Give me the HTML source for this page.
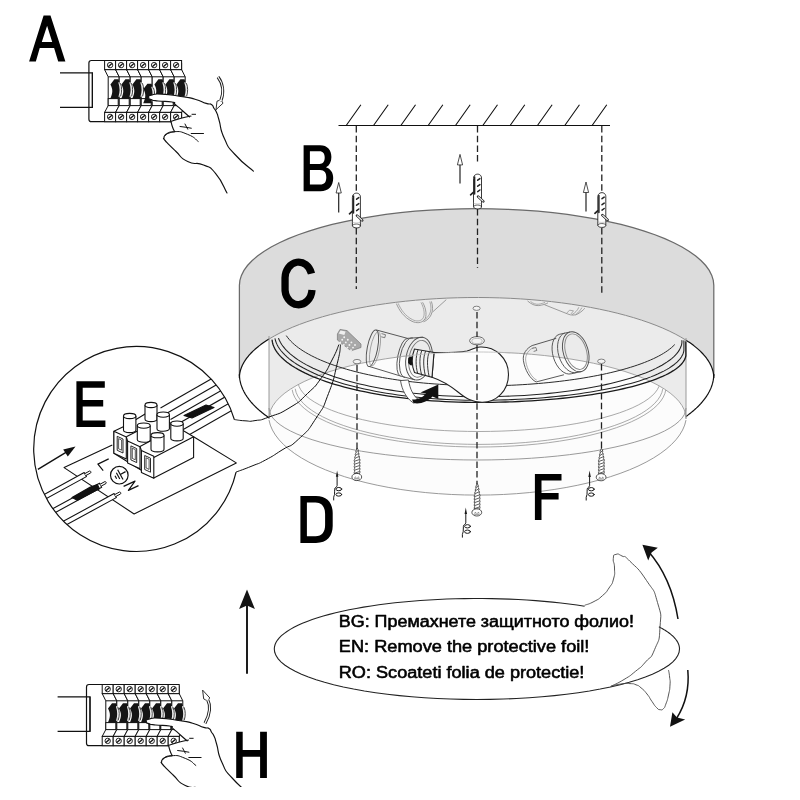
<!DOCTYPE html>
<html><head><meta charset="utf-8"><title>Assembly</title>
<style>html,body{margin:0;padding:0;background:#fff}svg{display:block}text{font-family:"Liberation Sans",sans-serif}</style>
</head><body>
<svg width="800" height="800" viewBox="0 0 800 800" style="will-change:transform">
<rect width="800" height="800" fill="#fff"/>
<g id="lamp">
<path d="M239.4 285.4 L239.91 280.38 L241.43 275.38 L243.96 270.42 L247.48 265.52 L251.99 260.71 L257.46 256.01 L263.86 251.43 L271.18 247 L279.38 242.73 L288.42 238.65 L298.26 234.76 L308.87 231.09 L320.2 227.66 L332.2 224.47 L344.82 221.54 L358 218.89 L371.69 216.52 L385.83 214.45 L400.35 212.68 L415.21 211.22 L430.32 210.08 L445.64 209.26 L461.09 208.76 L476.6 208.6 L492.11 208.76 L507.56 209.26 L522.88 210.08 L537.99 211.22 L552.85 212.68 L567.37 214.45 L581.51 216.52 L595.2 218.89 L608.38 221.54 L621 224.47 L633 227.66 L644.33 231.09 L654.94 234.76 L664.78 238.65 L673.82 242.73 L682.02 247 L689.34 251.43 L695.74 256.01 L701.21 260.71 L705.72 265.52 L709.24 270.42 L711.77 275.38 L713.29 280.38 L713.8 285.4 L713.8 378 L713.8 378 L713.29 372.74 L711.77 367.49 L709.24 362.3 L705.72 357.17 L701.21 352.12 L695.74 347.19 L689.34 342.4 L682.02 337.75 L673.82 333.28 L664.78 328.99 L654.94 324.92 L644.33 321.08 L633 317.48 L621 314.14 L608.38 311.07 L595.2 308.28 L581.51 305.8 L567.37 303.63 L552.85 301.77 L537.99 300.24 L522.88 299.05 L507.56 298.19 L492.11 297.67 L476.6 297.5 L461.09 297.67 L445.64 298.19 L430.32 299.05 L415.21 300.24 L400.35 301.77 L385.83 303.63 L371.69 305.8 L358 308.28 L344.82 311.07 L332.2 314.14 L320.2 317.48 L308.87 321.08 L298.26 324.92 L288.42 328.99 L279.38 333.28 L271.18 337.75 L263.86 342.4 L257.46 347.19 L251.99 352.12 L247.48 357.17 L243.96 362.3 L241.43 367.49 L239.91 372.74 L239.4 378 Z" fill="#dcdcdc" stroke="none"/>
<path d="M269 339.06 L274.34 335.95 L280.08 332.92 L286.22 329.98 L292.74 327.14 L299.63 324.4 L306.87 321.77 L314.45 319.25 L322.36 316.84 L330.57 314.56 L339.08 312.41 L347.86 310.39 L356.9 308.5 L366.18 306.75 L375.68 305.15 L385.38 303.69 L395.27 302.38 L405.32 301.22 L415.51 300.22 L425.82 299.37 L436.23 298.67 L446.73 298.14 L457.28 297.77 L467.88 297.55 L478.49 297.5 L489.09 297.61 L499.68 297.88 L510.21 298.31 L520.68 298.9 L531.06 299.65 L541.33 300.56 L551.48 301.62 L561.47 302.83 L571.29 304.19 L580.92 305.7 L590.35 307.36 L599.54 309.16 L608.49 311.09 L617.18 313.16 L625.58 315.36 L633.69 317.68 L641.48 320.13 L648.94 322.69 L656.06 325.36 L662.82 328.14 L669.2 331.01 L675.2 333.99 L680.81 337.04 L686 340.19 L686 418.5 L685.55 414.15 L684.22 409.82 L681.99 405.53 L678.9 401.29 L674.93 397.12 L670.13 393.05 L664.5 389.09 L658.07 385.25 L650.86 381.55 L642.91 378.02 L634.26 374.65 L624.93 371.48 L614.97 368.5 L604.43 365.74 L593.34 363.21 L581.75 360.91 L569.72 358.86 L557.29 357.06 L544.52 355.53 L531.46 354.27 L518.18 353.28 L504.71 352.57 L491.14 352.14 L477.5 352 L463.86 352.14 L450.29 352.57 L436.82 353.28 L423.54 354.27 L410.48 355.53 L397.71 357.06 L385.28 358.86 L373.25 360.91 L361.66 363.21 L350.57 365.74 L340.03 368.5 L330.07 371.48 L320.74 374.65 L312.09 378.02 L304.14 381.55 L296.93 385.25 L290.5 389.09 L284.87 393.05 L280.07 397.12 L276.1 401.29 L273.01 405.53 L270.78 409.82 L269.45 414.15 L269 418.5 Z" fill="#ebebeb"/>
<path d="M269 418.5 L269.45 414.15 L270.78 409.82 L273.01 405.53 L276.1 401.29 L280.07 397.12 L284.87 393.05 L290.5 389.09 L296.93 385.25 L304.14 381.55 L312.09 378.02 L320.74 374.65 L330.07 371.48 L340.03 368.5 L350.57 365.74 L361.66 363.21 L373.25 360.91 L385.28 358.86 L397.71 357.06 L410.48 355.53 L423.54 354.27 L436.82 353.28 L450.29 352.57 L463.86 352.14 L477.5 352 L491.14 352.14 L504.71 352.57 L518.18 353.28 L531.46 354.27 L544.52 355.53 L557.29 357.06 L569.72 358.86 L581.75 360.91 L593.34 363.21 L604.43 365.74 L614.97 368.5 L624.93 371.48 L634.26 374.65 L642.91 378.02 L650.86 381.55 L658.07 385.25 L664.5 389.09 L670.13 393.05 L674.93 397.12 L678.9 401.29 L681.99 405.53 L684.22 409.82 L685.55 414.15 L686 418.5 L686 420.07 L684.69 425.09 L682.57 430.06 L679.64 434.98 L675.93 439.81 L671.43 444.55 L666.18 449.16 L660.19 453.65 L653.49 457.98 L646.1 462.13 L638.04 466.11 L629.36 469.88 L620.09 473.43 L610.25 476.75 L599.9 479.83 L589.07 482.66 L577.8 485.21 L566.14 487.49 L554.13 489.49 L541.82 491.19 L529.26 492.59 L516.5 493.68 L503.58 494.47 L490.57 494.94 L477.5 495.1 L464.43 494.94 L451.42 494.47 L438.5 493.68 L425.74 492.59 L413.18 491.19 L400.87 489.49 L388.86 487.49 L377.2 485.21 L365.93 482.66 L355.1 479.83 L344.75 476.75 L334.91 473.43 L325.64 469.88 L316.96 466.11 L308.9 462.13 L301.51 457.98 L294.81 453.65 L288.82 449.16 L283.57 444.55 L279.07 439.81 L275.36 434.98 L272.43 430.06 L270.31 425.09 L269 420.07 Z" fill="#fcfcfc"/>
<path d="M239.4 376 L239.4 285.4 L239.4 285.4 L239.91 280.38 L241.43 275.38 L243.96 270.42 L247.48 265.52 L251.99 260.71 L257.46 256.01 L263.86 251.43 L271.18 247 L279.38 242.73 L288.42 238.65 L298.26 234.76 L308.87 231.09 L320.2 227.66 L332.2 224.47 L344.82 221.54 L358 218.89 L371.69 216.52 L385.83 214.45 L400.35 212.68 L415.21 211.22 L430.32 210.08 L445.64 209.26 L461.09 208.76 L476.6 208.6 L492.11 208.76 L507.56 209.26 L522.88 210.08 L537.99 211.22 L552.85 212.68 L567.37 214.45 L581.51 216.52 L595.2 218.89 L608.38 221.54 L621 224.47 L633 227.66 L644.33 231.09 L654.94 234.76 L664.78 238.65 L673.82 242.73 L682.02 247 L689.34 251.43 L695.74 256.01 L701.21 260.71 L705.72 265.52 L709.24 270.42 L711.77 275.38 L713.29 280.38 L713.8 285.4 L713.8 376" fill="none" stroke="#6a6a6a" stroke-width="1.25"/>
<path d="M239.4 378 L239.41 377.15 L239.45 376.31 L239.52 375.46 L239.61 374.61 L239.73 373.77 L239.87 372.92 L240.04 372.08 L240.24 371.23 L240.46 370.39 L240.71 369.55 L240.99 368.71 L241.29 367.87 L241.61 367.03 L241.97 366.19 L242.35 365.35 L242.75 364.52 L243.18 363.68 L243.64 362.85 L244.12 362.02 L244.63 361.19 L245.16 360.36 L245.72 359.54 L246.31 358.71 L246.92 357.89 L247.56 357.07 L248.22 356.26 L248.9 355.44 L249.61 354.63 L250.35 353.82 L251.11 353.02 L251.9 352.21 L252.71 351.41 L253.55 350.61 L254.41 349.82 L255.3 349.03 L256.21 348.24 L257.14 347.45 L258.1 346.67 L259.08 345.89 L260.09 345.12 L261.12 344.35 L262.18 343.58 L263.25 342.82 L264.36 342.06 L265.48 341.3 L266.63 340.55 L267.8 339.8 L269 339.06" fill="none" stroke="#111" stroke-width="1.2"/>
<path d="M239.4 374 L239.41 374.95 L239.45 375.9 L239.52 376.86 L239.61 377.81 L239.73 378.76 L239.87 379.71 L240.04 380.66 L240.24 381.61 L240.46 382.56 L240.71 383.5 L240.99 384.45 L241.29 385.39 L241.61 386.34 L241.97 387.28 L242.35 388.22 L242.75 389.16 L243.18 390.1 L243.64 391.03 L244.12 391.97 L244.63 392.9 L245.16 393.83 L245.72 394.76 L246.31 395.68 L246.92 396.61 L247.56 397.53 L248.22 398.44 L248.9 399.36 L249.61 400.27 L250.35 401.18 L251.11 402.09 L251.9 402.99 L252.71 403.89 L253.55 404.79 L254.41 405.68 L255.3 406.57 L256.21 407.46 L257.14 408.34 L258.1 409.22 L259.08 410.1 L260.09 410.97 L261.12 411.83 L262.18 412.7 L263.25 413.55 L264.36 414.41 L265.48 415.26 L266.63 416.1 L267.8 416.94 L269 417.78" fill="none" stroke="#111" stroke-width="1.2"/>
<path d="M686 340.19 L687.12 340.91 L688.23 341.64 L689.31 342.37 L690.37 343.11 L691.4 343.85 L692.42 344.6 L693.41 345.34 L694.38 346.1 L695.32 346.85 L696.25 347.61 L697.15 348.37 L698.03 349.13 L698.88 349.9 L699.71 350.67 L700.52 351.44 L701.31 352.22 L702.07 353 L702.81 353.78 L703.52 354.56 L704.21 355.35 L704.88 356.14 L705.53 356.93 L706.15 357.72 L706.75 358.51 L707.32 359.31 L707.87 360.11 L708.39 360.91 L708.89 361.71 L709.37 362.52 L709.82 363.32 L710.25 364.13 L710.66 364.94 L711.04 365.75 L711.39 366.56 L711.72 367.37 L712.03 368.18 L712.31 369 L712.57 369.81 L712.8 370.63 L713.01 371.45 L713.2 372.26 L713.36 373.08 L713.49 373.9 L713.6 374.72 L713.69 375.54 L713.75 376.36 L713.79 377.18 L713.8 378" fill="none" stroke="#111" stroke-width="1.2"/>
<path d="M686 416.51 L687.12 415.7 L688.23 414.88 L689.31 414.05 L690.37 413.22 L691.4 412.39 L692.42 411.55 L693.41 410.71 L694.38 409.87 L695.32 409.02 L696.25 408.17 L697.15 407.31 L698.03 406.45 L698.88 405.59 L699.71 404.72 L700.52 403.86 L701.31 402.98 L702.07 402.11 L702.81 401.23 L703.52 400.35 L704.21 399.47 L704.88 398.58 L705.53 397.69 L706.15 396.8 L706.75 395.91 L707.32 395.01 L707.87 394.11 L708.39 393.21 L708.89 392.31 L709.37 391.41 L709.82 390.5 L710.25 389.6 L710.66 388.69 L711.04 387.78 L711.39 386.86 L711.72 385.95 L712.03 385.04 L712.31 384.12 L712.57 383.2 L712.8 382.29 L713.01 381.37 L713.2 380.45 L713.36 379.53 L713.49 378.61 L713.6 377.69 L713.69 376.77 L713.75 375.84 L713.79 374.92 L713.8 374" fill="none" stroke="#111" stroke-width="1.2"/>
<path d="M269 339.06 L274.34 335.95 L280.08 332.92 L286.22 329.98 L292.74 327.14 L299.63 324.4 L306.87 321.77 L314.45 319.25 L322.36 316.84 L330.57 314.56 L339.08 312.41 L347.86 310.39 L356.9 308.5 L366.18 306.75 L375.68 305.15 L385.38 303.69 L395.27 302.38 L405.32 301.22 L415.51 300.22 L425.82 299.37 L436.23 298.67 L446.73 298.14 L457.28 297.77 L467.88 297.55 L478.49 297.5 L489.09 297.61 L499.68 297.88 L510.21 298.31 L520.68 298.9 L531.06 299.65 L541.33 300.56 L551.48 301.62 L561.47 302.83 L571.29 304.19 L580.92 305.7 L590.35 307.36 L599.54 309.16 L608.49 311.09 L617.18 313.16 L625.58 315.36 L633.69 317.68 L641.48 320.13 L648.94 322.69 L656.06 325.36 L662.82 328.14 L669.2 331.01 L675.2 333.99 L680.81 337.04 L686 340.19" fill="none" stroke="#8a8a8a" stroke-width="1"/>
<path d="M269 336 L269 419 M686 338 L686 419" fill="none" stroke="#8e8e8e" stroke-width="0.9"/>
<path d="M269 418.5 L269.45 414.15 L270.78 409.82 L273.01 405.53 L276.1 401.29 L280.07 397.12 L284.87 393.05 L290.5 389.09 L296.93 385.25 L304.14 381.55 L312.09 378.02 L320.74 374.65 L330.07 371.48 L340.03 368.5 L350.57 365.74 L361.66 363.21 L373.25 360.91 L385.28 358.86 L397.71 357.06 L410.48 355.53 L423.54 354.27 L436.82 353.28 L450.29 352.57 L463.86 352.14 L477.5 352 L491.14 352.14 L504.71 352.57 L518.18 353.28 L531.46 354.27 L544.52 355.53 L557.29 357.06 L569.72 358.86 L581.75 360.91 L593.34 363.21 L604.43 365.74 L614.97 368.5 L624.93 371.48 L634.26 374.65 L642.91 378.02 L650.86 381.55 L658.07 385.25 L664.5 389.09 L670.13 393.05 L674.93 397.12 L678.9 401.29 L681.99 405.53 L684.22 409.82 L685.55 414.15 L686 418.5" fill="none" stroke="#8e8e8e" stroke-width="0.8"/>
<path d="M269 408 L269.45 411.4 L270.78 414.79 L273.01 418.14 L276.1 421.46 L280.07 424.71 L284.87 427.9 L290.5 431 L296.93 434 L304.14 436.89 L312.09 439.66 L320.74 442.29 L330.07 444.77 L340.03 447.1 L350.57 449.25 L361.66 451.24 L373.25 453.03 L385.28 454.64 L397.71 456.04 L410.48 457.24 L423.54 458.23 L436.82 459 L450.29 459.56 L463.86 459.89 L477.5 460 L491.14 459.89 L504.71 459.56 L518.18 459 L531.46 458.23 L544.52 457.24 L557.29 456.04 L569.72 454.64 L581.75 453.03 L593.34 451.24 L604.43 449.25 L614.97 447.1 L624.93 444.77 L634.26 442.29 L642.91 439.66 L650.86 436.89 L658.07 434 L664.5 431 L670.13 427.9 L674.93 424.71 L678.9 421.46 L681.99 418.14 L684.22 414.79 L685.55 411.4 L686 408" fill="none" stroke="#8e8e8e" stroke-width="0.9"/>
<path d="M269 420.07 L270.31 425.09 L272.43 430.06 L275.36 434.98 L279.07 439.81 L283.57 444.55 L288.82 449.16 L294.81 453.65 L301.51 457.98 L308.9 462.13 L316.96 466.11 L325.64 469.88 L334.91 473.43 L344.75 476.75 L355.1 479.83 L365.93 482.66 L377.2 485.21 L388.86 487.49 L400.87 489.49 L413.18 491.19 L425.74 492.59 L438.5 493.68 L451.42 494.47 L464.43 494.94 L477.5 495.1 L490.57 494.94 L503.58 494.47 L516.5 493.68 L529.26 492.59 L541.82 491.19 L554.13 489.49 L566.14 487.49 L577.8 485.21 L589.07 482.66 L599.9 479.83 L610.25 476.75 L620.09 473.43 L629.36 469.88 L638.04 466.11 L646.1 462.13 L653.49 457.98 L660.19 453.65 L666.18 449.16 L671.43 444.55 L675.93 439.81 L679.64 434.98 L682.57 430.06 L684.69 425.09 L686 420.07" fill="none" stroke="#8e8e8e" stroke-width="0.9"/>
<clipPath id="wo"><path d="M269 418.5 L269.45 414.15 L270.78 409.82 L273.01 405.53 L276.1 401.29 L280.07 397.12 L284.87 393.05 L290.5 389.09 L296.93 385.25 L304.14 381.55 L312.09 378.02 L320.74 374.65 L330.07 371.48 L340.03 368.5 L350.57 365.74 L361.66 363.21 L373.25 360.91 L385.28 358.86 L397.71 357.06 L410.48 355.53 L423.54 354.27 L436.82 353.28 L450.29 352.57 L463.86 352.14 L477.5 352 L491.14 352.14 L504.71 352.57 L518.18 353.28 L531.46 354.27 L544.52 355.53 L557.29 357.06 L569.72 358.86 L581.75 360.91 L593.34 363.21 L604.43 365.74 L614.97 368.5 L624.93 371.48 L634.26 374.65 L642.91 378.02 L650.86 381.55 L658.07 385.25 L664.5 389.09 L670.13 393.05 L674.93 397.12 L678.9 401.29 L681.99 405.53 L684.22 409.82 L685.55 414.15 L686 418.5 L686 420.07 L684.69 425.09 L682.57 430.06 L679.64 434.98 L675.93 439.81 L671.43 444.55 L666.18 449.16 L660.19 453.65 L653.49 457.98 L646.1 462.13 L638.04 466.11 L629.36 469.88 L620.09 473.43 L610.25 476.75 L599.9 479.83 L589.07 482.66 L577.8 485.21 L566.14 487.49 L554.13 489.49 L541.82 491.19 L529.26 492.59 L516.5 493.68 L503.58 494.47 L490.57 494.94 L477.5 495.1 L464.43 494.94 L451.42 494.47 L438.5 493.68 L425.74 492.59 L413.18 491.19 L400.87 489.49 L388.86 487.49 L377.2 485.21 L365.93 482.66 L355.1 479.83 L344.75 476.75 L334.91 473.43 L325.64 469.88 L316.96 466.11 L308.9 462.13 L301.51 457.98 L294.81 453.65 L288.82 449.16 L283.57 444.55 L279.07 439.81 L275.36 434.98 L272.43 430.06 L270.31 425.09 L269 420.07 Z"/></clipPath>
<g clip-path="url(#wo)">
<path d="M298.2 383.37 L299.1 386.57 L300.73 389.74 L303.08 392.88 L306.14 395.97 L309.89 399 L314.32 401.96 L319.42 404.83 L325.16 407.61 L331.52 410.28 L338.48 412.83 L346 415.25 L354.06 417.54 L362.62 419.68 L371.65 421.66 L381.11 423.48 L390.97 425.12 L401.18 426.59 L411.7 427.88 L422.5 428.98 L433.53 429.88 L444.73 430.59 L456.08 431.09 L467.52 431.4 L479 431.5 L490.48 431.4 L501.92 431.09 L513.27 430.59 L524.47 429.88 L535.5 428.98 L546.3 427.88 L556.82 426.59 L567.03 425.12 L576.89 423.48 L586.35 421.66 L595.38 419.68 L603.94 417.54 L612 415.25 L619.52 412.83 L626.48 410.28 L632.84 407.61 L638.58 404.83 L643.68 401.96 L648.11 399 L651.86 395.97 L654.92 392.88 L657.27 389.74 L658.9 386.57 L659.8 383.37" fill="none" stroke="#9a9a9a" stroke-width="0.85"/>
<path d="M295.2 388.72 L296.11 392.42 L297.77 396.09 L300.15 399.72 L303.25 403.3 L307.07 406.8 L311.57 410.22 L316.75 413.55 L322.59 416.76 L329.05 419.85 L336.12 422.8 L343.77 425.6 L351.96 428.25 L360.66 430.72 L369.85 433.01 L379.47 435.12 L389.49 437.02 L399.87 438.72 L410.57 440.21 L421.55 441.48 L432.76 442.53 L444.16 443.34 L455.69 443.93 L467.32 444.28 L479 444.4 L490.68 444.28 L502.31 443.93 L513.84 443.34 L525.24 442.53 L536.45 441.48 L547.43 440.21 L558.13 438.72 L568.51 437.02 L578.53 435.12 L588.15 433.01 L597.34 430.72 L606.04 428.25 L614.23 425.6 L621.88 422.8 L628.95 419.85 L635.41 416.76 L641.25 413.55 L646.43 410.22 L650.93 406.8 L654.75 403.3 L657.85 399.72 L660.23 396.09 L661.89 392.42 L662.8 388.72" fill="none" stroke="#9a9a9a" stroke-width="0.85"/>
<path d="M292.2 389.77 L293.13 393.57 L294.8 397.35 L297.22 401.08 L300.37 404.75 L304.24 408.35 L308.82 411.87 L314.08 415.29 L320.01 418.59 L326.58 421.76 L333.77 424.8 L341.54 427.68 L349.86 430.4 L358.71 432.94 L368.04 435.3 L377.82 437.46 L388.01 439.42 L398.56 441.17 L409.44 442.69 L420.6 444 L431.99 445.07 L443.58 445.91 L455.31 446.52 L467.13 446.88 L479 447 L490.87 446.88 L502.69 446.52 L514.42 445.91 L526.01 445.07 L537.4 444 L548.56 442.69 L559.44 441.17 L569.99 439.42 L580.18 437.46 L589.96 435.3 L599.29 432.94 L608.14 430.4 L616.46 427.68 L624.23 424.8 L631.42 421.76 L637.99 418.59 L643.92 415.29 L649.18 411.87 L653.76 408.35 L657.63 404.75 L660.78 401.08 L663.2 397.35 L664.87 393.57 L665.8 389.77" fill="none" stroke="#9a9a9a" stroke-width="0.85"/>
</g>
<path d="M286.5 335.92 L287.76 337.66 L289.16 339.38 L290.72 341.08 L292.43 342.78 L294.29 344.45 L296.29 346.11 L298.44 347.75 L300.73 349.37 L303.16 350.97 L305.73 352.55 L308.44 354.1 L311.29 355.63 L314.27 357.13 L317.37 358.6 L320.61 360.05 L323.97 361.46 L327.46 362.84 L331.06 364.19 L334.79 365.51 L338.62 366.79 L342.57 368.04 L346.63 369.25 L350.79 370.43 L355.05 371.56 L359.42 372.66 L363.87 373.72 L368.42 374.73 L373.05 375.71 L377.77 376.64 L382.57 377.53 L387.44 378.37 L392.39 379.17 L397.4 379.93 L402.48 380.64 L407.62 381.3 L412.82 381.91 L418.06 382.48 L423.36 383 L428.7 383.47 L434.08 383.9 L439.49 384.27 L444.93 384.6 L450.4 384.87 L455.9 385.1 L461.41 385.27 L466.93 385.4 L472.46 385.47 L478 385.5 L478 386 L483.57 385.98 L489.13 385.92 L494.69 385.81 L500.24 385.67 L505.76 385.48 L511.27 385.26 L516.75 384.99 L522.2 384.68 L527.62 384.33 L533 383.94 L538.34 383.51 L543.64 383.05 L548.88 382.54 L554.08 381.99 L559.21 381.41 L564.29 380.78 L569.29 380.12 L574.23 379.43 L579.1 378.69 L583.89 377.92 L588.6 377.12 L593.23 376.28 L597.78 375.41 L602.23 374.5 L606.58 373.56 L610.85 372.59 L615.01 371.58 L619.06 370.55 L623.02 369.49 L626.86 368.39 L630.59 367.27 L634.21 366.13 L637.7 364.95 L641.08 363.75 L644.34 362.53 L647.47 361.28 L650.47 360.01 L653.34 358.72 L656.08 357.4 L658.69 356.07 L661.16 354.72 L663.49 353.35 L665.68 351.96 L667.74 350.55 L669.64 349.14 L671.41 347.71 L673.03 346.26 L674.5 344.81" fill="none" stroke="#2a2a2a" stroke-width="1.0" stroke-linecap="round"/>
<path d="M278.6 338.57 L279.45 340.55 L280.49 342.53 L281.7 344.49 L283.1 346.44 L284.67 348.38 L286.42 350.3 L288.34 352.2 L290.43 354.08 L292.7 355.94 L295.13 357.78 L297.73 359.59 L300.5 361.38 L303.43 363.13 L306.51 364.86 L309.75 366.56 L313.15 368.22 L316.7 369.85 L320.39 371.44 L324.22 373 L328.2 374.51 L332.31 375.99 L336.56 377.42 L340.94 378.82 L345.44 380.16 L350.06 381.47 L354.8 382.72 L359.65 383.93 L364.61 385.09 L369.67 386.2 L374.83 387.26 L380.09 388.27 L385.43 389.22 L390.86 390.13 L396.37 390.97 L401.96 391.77 L407.61 392.5 L413.33 393.18 L419.11 393.81 L424.94 394.37 L430.83 394.88 L436.75 395.33 L442.72 395.72 L448.71 396.05 L454.74 396.32 L460.78 396.53 L466.85 396.68 L472.92 396.77 L479 396.8 L479 396.8 L485.51 396.77 L492.01 396.69 L498.5 396.54 L504.97 396.34 L511.41 396.08 L517.82 395.77 L524.19 395.4 L530.51 394.97 L536.78 394.49 L542.99 393.95 L549.14 393.36 L555.21 392.72 L561.2 392.02 L567.11 391.27 L572.93 390.47 L578.66 389.61 L584.27 388.71 L589.79 387.76 L595.18 386.76 L600.46 385.71 L605.61 384.62 L610.64 383.48 L615.53 382.3 L620.27 381.07 L624.87 379.81 L629.33 378.5 L633.62 377.16 L637.76 375.77 L641.74 374.36 L645.54 372.91 L649.18 371.42 L652.64 369.91 L655.92 368.36 L659.02 366.79 L661.94 365.19 L664.67 363.56 L667.2 361.91 L669.55 360.24 L671.69 358.55 L673.64 356.85 L675.39 355.12 L676.94 353.38 L678.28 351.63 L679.42 349.87 L680.35 348.1 L681.07 346.32 L681.59 344.54 L681.9 342.75 L681.9 340.5" fill="none" stroke="#222" stroke-width="1.05" stroke-linecap="round" stroke-linejoin="round"/>
<path d="M275 338.73 L275.55 340.79 L276.29 342.85 L277.23 344.9 L278.37 346.93 L279.7 348.96 L281.23 350.97 L282.95 352.96 L284.87 354.93 L286.97 356.89 L289.26 358.82 L291.73 360.73 L294.39 362.61 L297.22 364.46 L300.24 366.29 L303.42 368.08 L306.78 369.84 L310.31 371.56 L314 373.25 L317.85 374.9 L321.86 376.51 L326.02 378.08 L330.34 379.6 L334.79 381.09 L339.39 382.52 L344.12 383.91 L348.98 385.25 L353.98 386.54 L359.09 387.77 L364.32 388.96 L369.66 390.09 L375.1 391.17 L380.65 392.19 L386.29 393.15 L392.03 394.06 L397.85 394.91 L403.74 395.69 L409.71 396.42 L415.75 397.09 L421.85 397.7 L428 398.24 L434.21 398.72 L440.45 399.14 L446.74 399.49 L453.05 399.78 L459.39 400.01 L465.75 400.17 L472.12 400.27 L478.5 400.3 L479 400.3 L485.57 400.27 L492.14 400.19 L498.7 400.06 L505.23 399.88 L511.74 399.64 L518.21 399.35 L524.64 399.01 L531.03 398.61 L537.36 398.17 L543.63 397.67 L549.84 397.13 L555.97 396.53 L562.02 395.89 L567.99 395.19 L573.87 394.45 L579.65 393.67 L585.32 392.83 L590.89 391.95 L596.34 391.03 L601.67 390.06 L606.87 389.05 L611.95 388 L616.88 386.91 L621.68 385.78 L626.32 384.61 L630.82 383.41 L635.16 382.17 L639.34 380.89 L643.35 379.58 L647.2 378.24 L650.87 376.87 L654.36 375.47 L657.68 374.05 L660.81 372.59 L663.75 371.12 L666.51 369.62 L669.07 368.1 L671.43 366.55 L673.6 365 L675.57 363.42 L677.33 361.83 L678.89 360.22 L680.25 358.61 L681.4 356.98 L682.34 355.35 L683.07 353.7 L683.59 352.06 L683.9 350.41 L683.9 340.8" fill="none" stroke="#222" stroke-width="1.05" stroke-linecap="round" stroke-linejoin="round"/>
<path d="M272.1 340.1 L272.41 342.16 L272.93 344.22 L273.67 346.27 L274.61 348.31 L275.77 350.34 L277.13 352.36 L278.7 354.36 L280.47 356.35 L282.45 358.32 L284.63 360.26 L287 362.19 L289.57 364.09 L292.34 365.96 L295.3 367.8 L298.45 369.62 L301.78 371.4 L305.29 373.15 L308.98 374.86 L312.84 376.53 L316.88 378.16 L321.07 379.76 L325.44 381.31 L329.95 382.81 L334.62 384.27 L339.44 385.68 L344.4 387.04 L349.5 388.36 L354.73 389.62 L360.08 390.82 L365.56 391.98 L371.16 393.08 L376.86 394.12 L382.67 395.1 L388.57 396.02 L394.57 396.89 L400.65 397.7 L406.82 398.44 L413.05 399.12 L419.35 399.74 L425.72 400.29 L432.13 400.79 L438.6 401.21 L445.1 401.57 L451.64 401.87 L458.21 402.1 L464.79 402.27 L471.39 402.37 L478 402.4 L479 402.4 L485.64 402.38 L492.27 402.3 L498.89 402.18 L505.49 402 L512.06 401.78 L518.59 401.51 L525.09 401.18 L531.54 400.82 L537.93 400.4 L544.27 399.93 L550.53 399.42 L556.73 398.86 L562.84 398.25 L568.87 397.6 L574.8 396.9 L580.64 396.16 L586.37 395.38 L591.99 394.55 L597.49 393.69 L602.88 392.78 L608.13 391.83 L613.25 390.84 L618.24 389.81 L623.08 388.75 L627.77 387.65 L632.31 386.52 L636.69 385.35 L640.91 384.16 L644.97 382.93 L648.85 381.67 L652.56 380.38 L656.08 379.06 L659.43 377.72 L662.59 376.36 L665.56 374.97 L668.34 373.56 L670.93 372.13 L673.32 370.68 L675.51 369.21 L677.49 367.73 L679.27 366.24 L680.85 364.73 L682.22 363.21 L683.38 361.68 L684.32 360.15 L685.06 358.6 L685.59 357.06 L685.9 355.5 L685.8 342" fill="none" stroke="#1a1a1a" stroke-width="1.3" stroke-linecap="round" stroke-linejoin="round"/>
<ellipse cx="476.6" cy="308.3" rx="3.6" ry="2.1" fill="#f4f4f4" stroke="#666" stroke-width="0.8"/>
<ellipse cx="477" cy="340.7" rx="7.4" ry="4.1" fill="#f4f4f4" stroke="#5a5a5a" stroke-width="0.9"/>
<ellipse cx="477" cy="341" rx="5.2" ry="2.6" fill="none" stroke="#999" stroke-width="0.6"/>
<ellipse cx="357" cy="361.6" rx="3.8" ry="2.2" fill="#f4f4f4" stroke="#666" stroke-width="0.8"/>
<ellipse cx="601.4" cy="361.3" rx="3.8" ry="2.2" fill="#f4f4f4" stroke="#666" stroke-width="0.8"/>
<g fill="none" stroke="#8c8c8c" stroke-width="0.85">
<path d="M396.4 303.6 C399 310 404 317.5 412 321.3 C416.5 323.4 421.5 323.2 424.4 319.8 C427 316.5 426.5 309 422.6 302.3"/>
<path d="M398.2 303.4 C400.8 309.5 405.2 316 412.6 319.7 C416.4 321.6 420.4 321.4 422.8 318.6 C425 315.6 424.6 309 421 302.4" stroke-width="0.7"/>
<path d="M431.4 301.4 C433 306 433 311 431 315 C429.5 318 427 320.5 423.5 321.8"/>
<path d="M429.8 301.5 C431.4 306 431.4 310.4 429.6 314 C428.3 316.6 426.2 319 423.4 320.4" stroke-width="0.7"/>
<path d="M432.6 312 L446.3 299.6"/>
<path d="M527.5 300.9 C531 304 535 306 538.8 305.6 C543 305 546 304 548 302.8"/>
<path d="M530.5 301.4 C533 303.6 536 304.6 538.8 304.2 C541.5 303.8 543.5 303 545 302.4" stroke-width="0.7"/>
<path d="M544.4 304.7 L567.8 314 C571 315.4 575 315.6 578 313.8 C581 312 583.5 310 584.7 308.2"/>
<path d="M575.5 314.8 C578.5 312.5 580.5 310 581.9 307.6 M572 314.6 C575 313 577.5 310.5 578.8 307.3" stroke-width="0.75"/>
<path d="M566.5 313.4 L569.5 310.2 L573.5 310.8 L571 313.9" stroke-width="0.7"/>
</g>
<g transform="translate(575.75 351.75)" fill="none" stroke="#505050" stroke-width="0.95">
<path d="M-43.6 -6.2 L-19.5 -13.4 M-11.8 23 L-39.6 30.2"/>
<path d="M-43.6 -6.2 C-49 -3.5 -53.5 2 -52.3 9 C-51 18 -45.5 27.5 -39.6 30.2"/>
<path d="M-42.2 -4.2 C-47 -2 -51 3 -50 9.5 C-48.8 17.5 -44 26 -39 28.4" stroke="#8a8a8a" stroke-width="0.7"/>
<path d="M-43.5 -3.3 l3.6 -1 l1 3 l-3.2 1" stroke-width="0.7"/>
<path d="M-16.52 -17.4 A12.4 20.6 -17 0 0 -4.48 22"/>
<path d="M-11.02 -18.7 A12.4 20.6 -17 0 0 1.02 20.7"/>
<path d="M-16.5 -17.4 L-6 -19.7 M-4.5 22 L6 19.7" />
<ellipse cx="0" cy="0" rx="12.4" ry="20.6" transform="rotate(-17)"/>
<ellipse cx="0.3" cy="0" rx="10.4" ry="18.3" transform="rotate(-17)" stroke="#888"/>
</g>
<g fill="none" stroke="#505050" stroke-width="0.95">
<path d="M376.5 330 L408 338.5 M369 366.4 L400.5 376"/>
<ellipse cx="372.4" cy="348.3" rx="5.2" ry="18.6" transform="rotate(11 372.4 348.3)"/>
<ellipse cx="375" cy="348.9" rx="4.6" ry="17.5" transform="rotate(11 375 348.9)" stroke="#8a8a8a" stroke-width="0.7"/>
<path d="M381.5 333.6 l4 1.1 l-0.7 3 l-3.6 -0.9" stroke-width="0.7"/>
<path d="M407.86 338.35 A6.5 19.2 11 0 0 400.54 376.05"/>
<path d="M412.85 337.97 A9 20.2 11 0 0 405.15 377.63"/>
<path d="M407.9 338.3 L423 337.3 M400.5 376 L415 379.9"/>
<ellipse cx="419" cy="358.6" rx="13" ry="21.6" transform="rotate(10 419 358.6)"/>
<ellipse cx="419.6" cy="358.8" rx="10.6" ry="18.6" transform="rotate(10 419.6 358.8)" stroke="#777"/>
</g>
<path d="M408.2 358.2 C409.6 356.6 411.4 356.2 413.2 357 L411.8 365.6 C410 365.4 408.8 364.4 408.1 362.6 Z" fill="#111"/>
<g stroke="#222" stroke-width="1.1" fill="#fdfdfd">
<path d="M434 352.5 C446 352.6 458 352.6 467 351 C472 349.8 475 347.3 480 347 C495 346.2 508.5 358 508.5 374.5 C508.5 391 496 402.5 482 402.3 C472 402.2 466 398.5 458 392 C450 385.5 442 380.5 432 377.2 Z"/>
<path d="M434 352.5 L432 377.2 L414.5 372.5 C411.5 366 411.5 356 414.5 349 Z" fill="#f3f3f3"/>
<path d="M418 349.8 C415.5 357 415.5 366 417.7 373.4" fill="none" stroke-width="0.9"/>
<path d="M421.8 350.5 C419.3 357 419.3 366 421.5 374.4" fill="none" stroke-width="0.9"/>
<path d="M425.6 351.2 C423.1 357 423.1 366 425.3 375.4" fill="none" stroke-width="0.9"/>
<path d="M429.4 351.90000000000003 C426.9 357 426.9 366 429.09999999999997 376.4" fill="none" stroke-width="0.9"/>
</g>
<path d="M396.03 357.29 L398.27 356.99 L400.52 356.7 L402.78 356.42 L405.05 356.14 L407.33 355.88 L409.62 355.62 L411.92 355.38 L414.22 355.14 L416.54 354.91 L418.86 354.68 L421.2 354.47 L423.54 354.27 L425.88 354.07 L428.24 353.88 L430.6 353.7 L432.96 353.53 L435.34 353.37 L437.72 353.22 L440.1 353.08 L442.49 352.94 L444.88 352.82 L447.28 352.7 L449.68 352.59 L452.09 352.5 L454.5 352.41 L456.91 352.32 L459.33 352.25 L461.75 352.19 L464.17 352.14 L466.59 352.09 L469.01 352.06 L471.44 352.03 L473.86 352.01 L476.29 352 L478.71 352 L481.14 352.01 L483.56 352.03 L485.99 352.06 L488.41 352.09 L490.83 352.14 L493.25 352.19 L495.67 352.25 L498.09 352.32 L500.5 352.41 L502.91 352.5 L505.32 352.59 L507.72 352.7 L510.12 352.82" fill="none" stroke="#b9b9b9" stroke-width="0.8"/>
<path d="M400.5 380.5 C402 390 406 398 413.5 403 L420 401 C413 396 410 389 408.5 380 Z" fill="#fff" stroke="#333" stroke-width="0.8"/>
<path d="M412 399.5 C418 399.8 423 397.5 426 393.5 L420.5 392.5 L438.3 384.5 L438.3 399 L432.5 396.5 C428 401.5 420 404.5 413.5 403 Z" fill="#111"/>
<path d="M337.4 334 L340 329.4 L347 330.6 L361 344 L361 347.5 L351 350.8 L337.4 340 Z" fill="#a9a9a9" stroke="#777" stroke-width="0.7"/>
<path d="M338.6 333.6 L340.6 330.6 L345.6 331.5 L344.3 335 Z" fill="#efefef" stroke="none"/>
<circle cx="344.2" cy="337.2" r="0.95" fill="#f2f2f2"/>
<circle cx="342.2" cy="339.8" r="0.95" fill="#f2f2f2"/>
<circle cx="340.2" cy="342.4" r="0.95" fill="#f2f2f2"/>
<circle cx="347.8" cy="339.8" r="0.95" fill="#f2f2f2"/>
<circle cx="345.8" cy="342.4" r="0.95" fill="#f2f2f2"/>
<circle cx="343.8" cy="345" r="0.95" fill="#f2f2f2"/>
<circle cx="351.4" cy="342.4" r="0.95" fill="#f2f2f2"/>
<circle cx="349.4" cy="345" r="0.95" fill="#f2f2f2"/>
<circle cx="347.4" cy="347.6" r="0.95" fill="#f2f2f2"/>
<circle cx="355" cy="345" r="0.95" fill="#f2f2f2"/>
<circle cx="353" cy="347.6" r="0.95" fill="#f2f2f2"/>
<circle cx="351" cy="350.2" r="0.95" fill="#f2f2f2"/>
</g>
<path d="M356.3 126 V193 M356.3 228 V289 M477.5 126 V163 M477.5 209 V268 M601.8 126 V191 M601.8 228 V293" stroke="#222" stroke-width="1.3" stroke-dasharray="6.5 3.2" fill="none"/>
<path d="M357 365 V449 M477 312 V337 M477 345 V484 M601.5 364 V449" stroke="#222" stroke-width="1.3" stroke-dasharray="6.5 3.2" fill="none"/>
<g stroke="#111" stroke-width="1.2" fill="none">
<path d="M338.5 125.5 H610"/>
<path d="M346.2 125.5 L360.9 104.8 M373.52 125.5 L388.22 104.8 M400.84 125.5 L415.54 104.8 M428.16 125.5 L442.86 104.8 M455.48 125.5 L470.18 104.8 M482.8 125.5 L497.5 104.8 M510.12 125.5 L524.82 104.8 M537.44 125.5 L552.14 104.8 M564.76 125.5 L579.46 104.8 M592.08 125.5 L606.78 104.8 " stroke-width="1.1"/>
</g>
<g transform="translate(356.4 193)" stroke="#222" stroke-width="0.9" fill="#fff" stroke-linecap="round">
<path d="M-4 4 C-4 -1.2 4 -1.2 4 4 L4 33 C4 35.6 -4 35.6 -4 33 Z"/>
<path d="M-4 32.6 C-4 30.4 4 30.4 4 32.6" fill="none" stroke-width="0.7"/>
<path d="M-4 29.3 C-3 30.2 3 30.2 4 29.3" fill="none" stroke="#999" stroke-width="0.5"/>
<path d="M-2.9 3 V20" fill="none" stroke-width="1.5"/>
<path d="M0.2 6.2 L2.4 4.6" fill="none" stroke-width="1.5"/>
<path d="M0.2 12.2 L2.4 10.6" fill="none" stroke-width="1.5"/>
<path d="M0.2 17.6 L2.4 16.0" fill="none" stroke-width="1.5"/>
<path d="M-4.2 18.4 L-6.9 20.8" stroke-width="1.7" fill="none"/>
<path d="M0.6 22.6 L5.8 27.4" stroke="#222" stroke-width="2.6" fill="none"/>
<path d="M0.9 22.9 L5.5 27.1" stroke="#fff" stroke-width="1.1" fill="none"/>
</g>
<g transform="translate(477.5 174)" stroke="#222" stroke-width="0.9" fill="#fff" stroke-linecap="round">
<path d="M-4 4 C-4 -1.2 4 -1.2 4 4 L4 33 C4 35.6 -4 35.6 -4 33 Z"/>
<path d="M-4 32.6 C-4 30.4 4 30.4 4 32.6" fill="none" stroke-width="0.7"/>
<path d="M-4 29.3 C-3 30.2 3 30.2 4 29.3" fill="none" stroke="#999" stroke-width="0.5"/>
<path d="M-2.9 3 V20" fill="none" stroke-width="1.5"/>
<path d="M0.2 6.2 L2.4 4.6" fill="none" stroke-width="1.5"/>
<path d="M0.2 12.2 L2.4 10.6" fill="none" stroke-width="1.5"/>
<path d="M0.2 17.6 L2.4 16.0" fill="none" stroke-width="1.5"/>
<path d="M-4.2 18.4 L-6.9 20.8" stroke-width="1.7" fill="none"/>
<path d="M0.6 22.6 L5.8 27.4" stroke="#222" stroke-width="2.6" fill="none"/>
<path d="M0.9 22.9 L5.5 27.1" stroke="#fff" stroke-width="1.1" fill="none"/>
</g>
<g transform="translate(601.8 192.5)" stroke="#222" stroke-width="0.9" fill="#fff" stroke-linecap="round">
<path d="M-4 4 C-4 -1.2 4 -1.2 4 4 L4 33 C4 35.6 -4 35.6 -4 33 Z"/>
<path d="M-4 32.6 C-4 30.4 4 30.4 4 32.6" fill="none" stroke-width="0.7"/>
<path d="M-4 29.3 C-3 30.2 3 30.2 4 29.3" fill="none" stroke="#999" stroke-width="0.5"/>
<path d="M-2.9 3 V20" fill="none" stroke-width="1.5"/>
<path d="M0.2 6.2 L2.4 4.6" fill="none" stroke-width="1.5"/>
<path d="M0.2 12.2 L2.4 10.6" fill="none" stroke-width="1.5"/>
<path d="M0.2 17.6 L2.4 16.0" fill="none" stroke-width="1.5"/>
<path d="M-4.2 18.4 L-6.9 20.8" stroke-width="1.7" fill="none"/>
<path d="M0.6 22.6 L5.8 27.4" stroke="#222" stroke-width="2.6" fill="none"/>
<path d="M0.9 22.9 L5.5 27.1" stroke="#fff" stroke-width="1.1" fill="none"/>
</g>
<path d="M338.7 191.5 V212.5" stroke="#222" stroke-width="1.2" fill="none"/>
<path d="M338.7 182.5 L341.3 193 L336.1 193 Z" fill="#fff" stroke="#222" stroke-width="0.8"/>
<path d="M460 163.4 V183.4" stroke="#222" stroke-width="1.2" fill="none"/>
<path d="M460 154.4 L462.6 164.9 L457.4 164.9 Z" fill="#fff" stroke="#222" stroke-width="0.8"/>
<path d="M586 191 V211.5" stroke="#222" stroke-width="1.2" fill="none"/>
<path d="M586 182 L588.6 192.5 L583.4 192.5 Z" fill="#fff" stroke="#222" stroke-width="0.8"/>
<g transform="translate(357.1 448.6)" stroke="#2a2a2a" stroke-width="0.8" fill="#fff" stroke-linejoin="round">
<path d="M0 -0.6 L0.9 1 Q1.8 2.4 1 3.6 L1.42 4 Q2.32 5.4 1.52 6.6 L1.94 7 Q2.84 8.4 2.04 9.6 L2.46 10 Q3.36 11.4 2.56 12.6 L2.46 13 Q3.36 14.4 2.56 15.6 L2.46 16 Q3.36 17.4 2.56 18.6 L2.46 19 Q3.36 20.4 2.56 21.6 L2.46 22 Q3.36 23.4 2.56 24.6 L2.3 25.2 L-2.3 25.2 L-2.56 25.2 Q-3.36 24 -2.46 22.8 L-2.56 22.2 Q-3.36 21 -2.46 19.8 L-2.56 19.2 Q-3.36 18 -2.46 16.8 L-2.56 16.2 Q-3.36 15 -2.46 13.8 L-2.56 13.2 Q-3.36 12 -2.46 10.8 L-2.04 10.2 Q-2.84 9 -1.94 7.8 L-1.52 7.2 Q-2.32 6 -1.42 4.8 L-1 4.2 Q-1.8 3 -0.9 1.8 Z"/>
<path d="M-0.9 3.6 L0.9 1.9" stroke-width="0.75"/>
<path d="M-1.42 6.6 L1.42 4.9" stroke-width="0.75"/>
<path d="M-1.94 9.6 L1.94 7.9" stroke-width="0.75"/>
<path d="M-2.46 12.6 L2.46 10.9" stroke-width="0.75"/>
<path d="M-2.46 15.6 L2.46 13.9" stroke-width="0.75"/>
<path d="M-2.46 18.6 L2.46 16.9" stroke-width="0.75"/>
<path d="M-2.46 21.6 L2.46 19.9" stroke-width="0.75"/>
<path d="M-2.46 24.6 L2.46 22.9" stroke-width="0.75"/>
<ellipse cx="-0.3" cy="28.4" rx="4.9" ry="3.6"/>
<path d="M-2.6 29.0 q0.9 -1 1.8 0 M0.4 29.0 q0.9 -1 1.8 0 M-2.9 30.2 h5.2" stroke-width="0.6" fill="none"/>
</g>
<g transform="translate(477.1 484)" stroke="#2a2a2a" stroke-width="0.8" fill="#fff" stroke-linejoin="round">
<path d="M0 -0.6 L0.9 1 Q1.8 2.4 1 3.6 L1.42 4 Q2.32 5.4 1.52 6.6 L1.94 7 Q2.84 8.4 2.04 9.6 L2.46 10 Q3.36 11.4 2.56 12.6 L2.46 13 Q3.36 14.4 2.56 15.6 L2.46 16 Q3.36 17.4 2.56 18.6 L2.46 19 Q3.36 20.4 2.56 21.6 L2.46 22 Q3.36 23.4 2.56 24.6 L2.3 25.2 L-2.3 25.2 L-2.56 25.2 Q-3.36 24 -2.46 22.8 L-2.56 22.2 Q-3.36 21 -2.46 19.8 L-2.56 19.2 Q-3.36 18 -2.46 16.8 L-2.56 16.2 Q-3.36 15 -2.46 13.8 L-2.56 13.2 Q-3.36 12 -2.46 10.8 L-2.04 10.2 Q-2.84 9 -1.94 7.8 L-1.52 7.2 Q-2.32 6 -1.42 4.8 L-1 4.2 Q-1.8 3 -0.9 1.8 Z"/>
<path d="M-0.9 3.6 L0.9 1.9" stroke-width="0.75"/>
<path d="M-1.42 6.6 L1.42 4.9" stroke-width="0.75"/>
<path d="M-1.94 9.6 L1.94 7.9" stroke-width="0.75"/>
<path d="M-2.46 12.6 L2.46 10.9" stroke-width="0.75"/>
<path d="M-2.46 15.6 L2.46 13.9" stroke-width="0.75"/>
<path d="M-2.46 18.6 L2.46 16.9" stroke-width="0.75"/>
<path d="M-2.46 21.6 L2.46 19.9" stroke-width="0.75"/>
<path d="M-2.46 24.6 L2.46 22.9" stroke-width="0.75"/>
<ellipse cx="-0.3" cy="28.4" rx="4.9" ry="3.6"/>
<path d="M-2.6 29.0 q0.9 -1 1.8 0 M0.4 29.0 q0.9 -1 1.8 0 M-2.9 30.2 h5.2" stroke-width="0.6" fill="none"/>
</g>
<g transform="translate(601.4 448.8)" stroke="#2a2a2a" stroke-width="0.8" fill="#fff" stroke-linejoin="round">
<path d="M0 -0.6 L0.9 1 Q1.8 2.4 1 3.6 L1.42 4 Q2.32 5.4 1.52 6.6 L1.94 7 Q2.84 8.4 2.04 9.6 L2.46 10 Q3.36 11.4 2.56 12.6 L2.46 13 Q3.36 14.4 2.56 15.6 L2.46 16 Q3.36 17.4 2.56 18.6 L2.46 19 Q3.36 20.4 2.56 21.6 L2.46 22 Q3.36 23.4 2.56 24.6 L2.3 25.2 L-2.3 25.2 L-2.56 25.2 Q-3.36 24 -2.46 22.8 L-2.56 22.2 Q-3.36 21 -2.46 19.8 L-2.56 19.2 Q-3.36 18 -2.46 16.8 L-2.56 16.2 Q-3.36 15 -2.46 13.8 L-2.56 13.2 Q-3.36 12 -2.46 10.8 L-2.04 10.2 Q-2.84 9 -1.94 7.8 L-1.52 7.2 Q-2.32 6 -1.42 4.8 L-1 4.2 Q-1.8 3 -0.9 1.8 Z"/>
<path d="M-0.9 3.6 L0.9 1.9" stroke-width="0.75"/>
<path d="M-1.42 6.6 L1.42 4.9" stroke-width="0.75"/>
<path d="M-1.94 9.6 L1.94 7.9" stroke-width="0.75"/>
<path d="M-2.46 12.6 L2.46 10.9" stroke-width="0.75"/>
<path d="M-2.46 15.6 L2.46 13.9" stroke-width="0.75"/>
<path d="M-2.46 18.6 L2.46 16.9" stroke-width="0.75"/>
<path d="M-2.46 21.6 L2.46 19.9" stroke-width="0.75"/>
<path d="M-2.46 24.6 L2.46 22.9" stroke-width="0.75"/>
<ellipse cx="-0.3" cy="28.4" rx="4.9" ry="3.6"/>
<path d="M-2.6 29.0 q0.9 -1 1.8 0 M0.4 29.0 q0.9 -1 1.8 0 M-2.9 30.2 h5.2" stroke-width="0.6" fill="none"/>
</g>
<g transform="translate(337.1 470.4)" stroke="#1a1a1a" fill="none" stroke-width="1" stroke-linecap="round">
<path d="M0 0 L1.25 6.4 L-1.25 6.4 Z" fill="#1a1a1a" stroke="none"/>
<path d="M0 6 V15.3 C-0.3 17 -2.5 16.8 -2.4 18.8 C-2.3 20.8 -2.7 22 -2.6 24.2 C-2.7 25.4 -3.4 25.6 -3.4 26.8 V29.6"/>
<ellipse cx="1.7" cy="18.7" rx="2.9" ry="1.65"/>
<ellipse cx="1.7" cy="24.1" rx="2.9" ry="1.65"/>
</g>
<g transform="translate(465.8 507.6)" stroke="#1a1a1a" fill="none" stroke-width="1" stroke-linecap="round">
<path d="M0 0 L1.25 6.4 L-1.25 6.4 Z" fill="#1a1a1a" stroke="none"/>
<path d="M0 6 V15.3 C-0.3 17 -2.5 16.8 -2.4 18.8 C-2.3 20.8 -2.7 22 -2.6 24.2 C-2.7 25.4 -3.4 25.6 -3.4 26.8 V29.6"/>
<ellipse cx="1.7" cy="18.7" rx="2.9" ry="1.65"/>
<ellipse cx="1.7" cy="24.1" rx="2.9" ry="1.65"/>
</g>
<g transform="translate(589.6 470.5)" stroke="#1a1a1a" fill="none" stroke-width="1" stroke-linecap="round">
<path d="M0 0 L1.25 6.4 L-1.25 6.4 Z" fill="#1a1a1a" stroke="none"/>
<path d="M0 6 V15.3 C-0.3 17 -2.5 16.8 -2.4 18.8 C-2.3 20.8 -2.7 22 -2.6 24.2 C-2.7 25.4 -3.4 25.6 -3.4 26.8 V29.6"/>
<ellipse cx="1.7" cy="18.7" rx="2.9" ry="1.65"/>
<ellipse cx="1.7" cy="24.1" rx="2.9" ry="1.65"/>
</g>
<g transform="translate(0 0)">
<g stroke="#111" stroke-width="1.2" fill="#fff">
<path d="M60 72.8 H92.4 V107.4 H60" fill="none"/>
<rect x="88.9" y="60.5" width="92.6" height="61.2" rx="2.5" fill="none"/>
<path d="M92.4 72.8 V107.4" fill="none"/>
</g>
<g stroke="#111" stroke-width="1" fill="#fff">
<path d="M104.6 69.6 L108.2 76.8 V105.6 L104.6 112.4 H115.6 L119.2 105.6 V76.8 L115.6 69.6 Z"/>
<path d="M115.6 69.6 L119.2 76.8 V105.6 L115.6 112.4 H126.6 L130.2 105.6 V76.8 L126.6 69.6 Z"/>
<path d="M126.6 69.6 L130.2 76.8 V105.6 L126.6 112.4 H137.6 L141.2 105.6 V76.8 L137.6 69.6 Z"/>
<path d="M137.6 69.6 L141.2 76.8 V105.6 L137.6 112.4 H148.6 L152.2 105.6 V76.8 L148.6 69.6 Z"/>
<path d="M148.6 69.6 L152.2 76.8 V105.6 L148.6 112.4 H159.6 L163.2 105.6 V76.8 L159.6 69.6 Z"/>
<path d="M159.6 69.6 L163.2 76.8 V105.6 L159.6 112.4 H170.6 L174.2 105.6 V76.8 L170.6 69.6 Z"/>
<path d="M170.6 69.6 L174.2 76.8 V105.6 L170.6 112.4 H181.6 L185.2 105.6 V76.8 L181.6 69.6 Z"/>
<rect x="104.6" y="60.5" width="11" height="9.1"/>
<rect x="104.6" y="112.4" width="11" height="9.3"/>
<circle cx="110.1" cy="65.1" r="2.7" stroke-width="0.9"/>
<path d="M108.3 66.69999999999999 L111.9 63.49999999999999" stroke-width="1.3"/>
<circle cx="110.1" cy="116.9" r="2.7" stroke-width="0.9"/>
<path d="M108.3 118.5 L111.9 115.30000000000001" stroke-width="1.3"/>
<path d="M108.2 76.8 H119.2" fill="none"/>
<rect x="108.2" y="98.6" width="10" height="7" />
<rect x="115.6" y="60.5" width="11" height="9.1"/>
<rect x="115.6" y="112.4" width="11" height="9.3"/>
<circle cx="121.1" cy="65.1" r="2.7" stroke-width="0.9"/>
<path d="M119.3 66.69999999999999 L122.9 63.49999999999999" stroke-width="1.3"/>
<circle cx="121.1" cy="116.9" r="2.7" stroke-width="0.9"/>
<path d="M119.3 118.5 L122.9 115.30000000000001" stroke-width="1.3"/>
<path d="M119.2 76.8 H130.2" fill="none"/>
<rect x="119.2" y="98.6" width="10" height="7" />
<rect x="126.6" y="60.5" width="11" height="9.1"/>
<rect x="126.6" y="112.4" width="11" height="9.3"/>
<circle cx="132.1" cy="65.1" r="2.7" stroke-width="0.9"/>
<path d="M130.3 66.69999999999999 L133.9 63.49999999999999" stroke-width="1.3"/>
<circle cx="132.1" cy="116.9" r="2.7" stroke-width="0.9"/>
<path d="M130.3 118.5 L133.9 115.30000000000001" stroke-width="1.3"/>
<path d="M130.2 76.8 H141.2" fill="none"/>
<rect x="130.2" y="98.6" width="10" height="7" />
<rect x="137.6" y="60.5" width="11" height="9.1"/>
<rect x="137.6" y="112.4" width="11" height="9.3"/>
<circle cx="143.1" cy="65.1" r="2.7" stroke-width="0.9"/>
<path d="M141.3 66.69999999999999 L144.9 63.49999999999999" stroke-width="1.3"/>
<circle cx="143.1" cy="116.9" r="2.7" stroke-width="0.9"/>
<path d="M141.3 118.5 L144.9 115.30000000000001" stroke-width="1.3"/>
<path d="M141.2 76.8 H152.2" fill="none"/>
<rect x="141.2" y="98.6" width="10" height="7" />
<rect x="148.6" y="60.5" width="11" height="9.1"/>
<rect x="148.6" y="112.4" width="11" height="9.3"/>
<circle cx="154.1" cy="65.1" r="2.7" stroke-width="0.9"/>
<path d="M152.3 66.69999999999999 L155.9 63.49999999999999" stroke-width="1.3"/>
<circle cx="154.1" cy="116.9" r="2.7" stroke-width="0.9"/>
<path d="M152.3 118.5 L155.9 115.30000000000001" stroke-width="1.3"/>
<path d="M152.2 76.8 H163.2" fill="none"/>
<rect x="152.2" y="98.6" width="10" height="7" />
<rect x="159.6" y="60.5" width="11" height="9.1"/>
<rect x="159.6" y="112.4" width="11" height="9.3"/>
<circle cx="165.1" cy="65.1" r="2.7" stroke-width="0.9"/>
<path d="M163.3 66.69999999999999 L166.9 63.49999999999999" stroke-width="1.3"/>
<circle cx="165.1" cy="116.9" r="2.7" stroke-width="0.9"/>
<path d="M163.3 118.5 L166.9 115.30000000000001" stroke-width="1.3"/>
<path d="M163.2 76.8 H174.2" fill="none"/>
<rect x="163.2" y="98.6" width="10" height="7" />
<rect x="170.6" y="60.5" width="11" height="9.1"/>
<rect x="170.6" y="112.4" width="11" height="9.3"/>
<circle cx="176.1" cy="65.1" r="2.7" stroke-width="0.9"/>
<path d="M174.3 66.69999999999999 L177.9 63.49999999999999" stroke-width="1.3"/>
<circle cx="176.1" cy="116.9" r="2.7" stroke-width="0.9"/>
<path d="M174.3 118.5 L177.9 115.30000000000001" stroke-width="1.3"/>
<path d="M174.2 76.8 H185.2" fill="none"/>
<rect x="174.2" y="98.6" width="10" height="7" />
</g>
<path d="M114.4 79.2 L118.6 79.2 C120.8 85.7 120.8 92.3 118.6 98.8 L110.2 98.8 C113 93.3 113 89.2 110.4 84.6 Z" fill="#151515"/>
<path d="M118.8 82.2 C120.6 87.2 120.6 91.8 119 96.8" fill="none" stroke="#eee" stroke-width="1.1"/>
<path d="M120.4 83.2 C122 87.2 122 91.8 120.6 96.3" fill="none" stroke="#2a2a2a" stroke-width="0.9"/>
<path d="M125.4 79.2 L129.6 79.2 C131.8 85.7 131.8 92.3 129.6 98.8 L121.2 98.8 C124 93.3 124 89.2 121.4 84.6 Z" fill="#151515"/>
<path d="M129.8 82.2 C131.6 87.2 131.6 91.8 130 96.8" fill="none" stroke="#eee" stroke-width="1.1"/>
<path d="M131.4 83.2 C133 87.2 133 91.8 131.6 96.3" fill="none" stroke="#2a2a2a" stroke-width="0.9"/>
<path d="M136.4 79.2 L140.6 79.2 C142.8 85.7 142.8 92.3 140.6 98.8 L132.2 98.8 C135 93.3 135 89.2 132.4 84.6 Z" fill="#151515"/>
<path d="M140.8 82.2 C142.6 87.2 142.6 91.8 141 96.8" fill="none" stroke="#eee" stroke-width="1.1"/>
<path d="M142.4 83.2 C144 87.2 144 91.8 142.6 96.3" fill="none" stroke="#2a2a2a" stroke-width="0.9"/>
<path d="M147.4 83.7 L151.6 83.7 C153.8 90.2 153.8 96.8 151.6 103.3 L143.2 103.3 C146 97.8 146 93.7 143.4 89.1 Z" fill="#151515"/>
<path d="M151.8 86.7 C153.6 91.7 153.6 96.3 152 101.3" fill="none" stroke="#eee" stroke-width="1.1"/>
<path d="M153.4 87.7 C155 91.7 155 96.3 153.6 100.8" fill="none" stroke="#2a2a2a" stroke-width="0.9"/>
<path d="M158.4 79.2 L162.6 79.2 C164.8 85.7 164.8 92.3 162.6 98.8 L154.2 98.8 C157 93.3 157 89.2 154.4 84.6 Z" fill="#151515"/>
<path d="M162.8 82.2 C164.6 87.2 164.6 91.8 163 96.8" fill="none" stroke="#eee" stroke-width="1.1"/>
<path d="M164.4 83.2 C166 87.2 166 91.8 164.6 96.3" fill="none" stroke="#2a2a2a" stroke-width="0.9"/>
<path d="M169.4 79.2 L173.6 79.2 C175.8 85.7 175.8 92.3 173.6 98.8 L165.2 98.8 C168 93.3 168 89.2 165.4 84.6 Z" fill="#151515"/>
<path d="M173.8 82.2 C175.6 87.2 175.6 91.8 174 96.8" fill="none" stroke="#eee" stroke-width="1.1"/>
<path d="M175.4 83.2 C177 87.2 177 91.8 175.6 96.3" fill="none" stroke="#2a2a2a" stroke-width="0.9"/>
<path d="M180.4 79.2 L184.6 79.2 C186.8 85.7 186.8 92.3 184.6 98.8 L176.2 98.8 C179 93.3 179 89.2 176.4 84.6 Z" fill="#151515"/>
<path d="M184.8 82.2 C186.6 87.2 186.6 91.8 185 96.8" fill="none" stroke="#eee" stroke-width="1.1"/>
<path d="M186.4 83.2 C188 87.2 188 91.8 186.6 96.3" fill="none" stroke="#2a2a2a" stroke-width="0.9"/>
<path d="M253.4 171.1 C247.27 165.57 244.63 165.28 235 154.5 C225.37 143.72 229.83 150.25 224.5 138.75 C219.17 127.25 221.63 128.75 219 120 C216.37 111.25 218.33 116.5 216.6 112.5 C214.87 108.5 215.53 110.7 213.8 108 C212.07 105.3 213.93 105.93 211.4 104.4 C208.87 102.87 211.67 105.13 206.2 103.4 C200.73 101.67 202.9 101.43 195 99.2 C187.1 96.97 193.67 98.4 182.5 96.7 C171.33 95 172 94.57 161.5 94.1 C151 93.63 155.23 94.1 151 95.3 C146.77 96.5 148.8 96.27 148.8 97.7 C148.8 99.13 147.93 98.5 151 99.6 C154.07 100.7 151 100.2 158 101 C165 101.8 166.17 100.8 172 102 C177.83 103.2 172 101.7 175.5 104.6 C179 107.5 177.83 106.6 182.5 110.7 C187.17 114.8 187.17 114.83 189.5 116.9 L191 116 C187.67 116.73 187.67 116.43 181 118.2 C174.33 119.97 174.33 120.27 171 121.3 L171 121.3 C171.5 123.2 171.3 123.53 172.5 127 C173.7 130.47 173.9 130.13 174.6 131.7 L174.6 131.7 C172.73 132.13 172.2 131.8 169 133 C165.8 134.2 166.67 133.63 165 135.3 C163.33 136.97 164.33 137.1 164 138 L164 138 C164.5 139 161.67 136.67 165.5 141 C169.33 145.33 168.1 144.17 175.5 151 C182.9 157.83 178.37 156.83 187.7 161.5 C197.03 166.17 194.17 160.93 203.5 165 C212.83 169.07 207.87 164.37 215.7 173.7 C223.53 183.03 223.23 186.57 227 193 Z" fill="#fff" stroke="none"/>
<path d="M253.4 171.1 C247.27 165.57 244.63 165.28 235 154.5 C225.37 143.72 229.83 150.25 224.5 138.75 C219.17 127.25 221.63 128.75 219 120 C216.37 111.25 218.33 116.5 216.6 112.5 C214.87 108.5 215.53 110.7 213.8 108 C212.07 105.3 213.93 105.93 211.4 104.4 C208.87 102.87 211.67 105.13 206.2 103.4 C200.73 101.67 202.9 101.43 195 99.2 C187.1 96.97 193.67 98.4 182.5 96.7 C171.33 95 172 94.57 161.5 94.1 C151 93.63 155.23 94.1 151 95.3 C146.77 96.5 148.8 96.27 148.8 97.7 C148.8 99.13 147.93 98.5 151 99.6 C154.07 100.7 151 100.2 158 101 C165 101.8 166.17 100.8 172 102 C177.83 103.2 172 101.7 175.5 104.6 C179 107.5 177.83 106.6 182.5 110.7 C187.17 114.8 187.17 114.83 189.5 116.9 M191 116 C187.67 116.73 187.67 116.43 181 118.2 C174.33 119.97 174.33 120.27 171 121.3 M171 121.3 C171.5 123.2 171.3 123.53 172.5 127 C173.7 130.47 173.9 130.13 174.6 131.7 M174.6 131.7 C172.73 132.13 172.2 131.8 169 133 C165.8 134.2 166.67 133.63 165 135.3 C163.33 136.97 164.33 137.1 164 138 M164 138 C164.5 139 161.67 136.67 165.5 141 C169.33 145.33 168.1 144.17 175.5 151 C182.9 157.83 178.37 156.83 187.7 161.5 C197.03 166.17 194.17 160.93 203.5 165 C212.83 169.07 207.87 164.37 215.7 173.7 C223.53 183.03 223.23 186.57 227 193" fill="none" stroke="#111" stroke-width="1.15" stroke-linejoin="round" stroke-linecap="round"/>
<path d="M165 135.3 C167.9 134.1 166.13 132 173.7 131.7 C181.27 131.4 179.53 131.17 187.7 134.4 C195.87 137.63 194.7 139.07 198.2 141.4 M192 114.3 L195.6 114.3 M180 126.5 C184 127 188 127.5 191.3 128.2 M185 124 L187.7 129.2 M191.2 133.5 L203.5 133.5" fill="none" stroke="#111" stroke-width="1" stroke-linecap="round"/>
</g>
<clipPath id="hc"><rect x="0" y="0" width="400" height="163"/></clipPath>
<g transform="translate(-2.4 624)" clip-path="url(#hc)">
<g stroke="#111" stroke-width="1.2" fill="#fff">
<path d="M60 72.8 H92.4 V107.4 H60" fill="none"/>
<rect x="88.9" y="60.5" width="92.6" height="61.2" rx="2.5" fill="none"/>
<path d="M92.4 72.8 V107.4" fill="none"/>
</g>
<g stroke="#111" stroke-width="1" fill="#fff">
<path d="M104.6 69.6 L108.2 76.8 V105.6 L104.6 112.4 H115.6 L119.2 105.6 V76.8 L115.6 69.6 Z"/>
<path d="M115.6 69.6 L119.2 76.8 V105.6 L115.6 112.4 H126.6 L130.2 105.6 V76.8 L126.6 69.6 Z"/>
<path d="M126.6 69.6 L130.2 76.8 V105.6 L126.6 112.4 H137.6 L141.2 105.6 V76.8 L137.6 69.6 Z"/>
<path d="M137.6 69.6 L141.2 76.8 V105.6 L137.6 112.4 H148.6 L152.2 105.6 V76.8 L148.6 69.6 Z"/>
<path d="M148.6 69.6 L152.2 76.8 V105.6 L148.6 112.4 H159.6 L163.2 105.6 V76.8 L159.6 69.6 Z"/>
<path d="M159.6 69.6 L163.2 76.8 V105.6 L159.6 112.4 H170.6 L174.2 105.6 V76.8 L170.6 69.6 Z"/>
<path d="M170.6 69.6 L174.2 76.8 V105.6 L170.6 112.4 H181.6 L185.2 105.6 V76.8 L181.6 69.6 Z"/>
<rect x="104.6" y="60.5" width="11" height="9.1"/>
<rect x="104.6" y="112.4" width="11" height="9.3"/>
<circle cx="110.1" cy="65.1" r="2.7" stroke-width="0.9"/>
<path d="M108.3 66.69999999999999 L111.9 63.49999999999999" stroke-width="1.3"/>
<circle cx="110.1" cy="116.9" r="2.7" stroke-width="0.9"/>
<path d="M108.3 118.5 L111.9 115.30000000000001" stroke-width="1.3"/>
<path d="M108.2 76.8 H119.2" fill="none"/>
<rect x="108.2" y="98.6" width="10" height="7" />
<rect x="115.6" y="60.5" width="11" height="9.1"/>
<rect x="115.6" y="112.4" width="11" height="9.3"/>
<circle cx="121.1" cy="65.1" r="2.7" stroke-width="0.9"/>
<path d="M119.3 66.69999999999999 L122.9 63.49999999999999" stroke-width="1.3"/>
<circle cx="121.1" cy="116.9" r="2.7" stroke-width="0.9"/>
<path d="M119.3 118.5 L122.9 115.30000000000001" stroke-width="1.3"/>
<path d="M119.2 76.8 H130.2" fill="none"/>
<rect x="119.2" y="98.6" width="10" height="7" />
<rect x="126.6" y="60.5" width="11" height="9.1"/>
<rect x="126.6" y="112.4" width="11" height="9.3"/>
<circle cx="132.1" cy="65.1" r="2.7" stroke-width="0.9"/>
<path d="M130.3 66.69999999999999 L133.9 63.49999999999999" stroke-width="1.3"/>
<circle cx="132.1" cy="116.9" r="2.7" stroke-width="0.9"/>
<path d="M130.3 118.5 L133.9 115.30000000000001" stroke-width="1.3"/>
<path d="M130.2 76.8 H141.2" fill="none"/>
<rect x="130.2" y="98.6" width="10" height="7" />
<rect x="137.6" y="60.5" width="11" height="9.1"/>
<rect x="137.6" y="112.4" width="11" height="9.3"/>
<circle cx="143.1" cy="65.1" r="2.7" stroke-width="0.9"/>
<path d="M141.3 66.69999999999999 L144.9 63.49999999999999" stroke-width="1.3"/>
<circle cx="143.1" cy="116.9" r="2.7" stroke-width="0.9"/>
<path d="M141.3 118.5 L144.9 115.30000000000001" stroke-width="1.3"/>
<path d="M141.2 76.8 H152.2" fill="none"/>
<rect x="141.2" y="98.6" width="10" height="7" />
<rect x="148.6" y="60.5" width="11" height="9.1"/>
<rect x="148.6" y="112.4" width="11" height="9.3"/>
<circle cx="154.1" cy="65.1" r="2.7" stroke-width="0.9"/>
<path d="M152.3 66.69999999999999 L155.9 63.49999999999999" stroke-width="1.3"/>
<circle cx="154.1" cy="116.9" r="2.7" stroke-width="0.9"/>
<path d="M152.3 118.5 L155.9 115.30000000000001" stroke-width="1.3"/>
<path d="M152.2 76.8 H163.2" fill="none"/>
<rect x="152.2" y="98.6" width="10" height="7" />
<rect x="159.6" y="60.5" width="11" height="9.1"/>
<rect x="159.6" y="112.4" width="11" height="9.3"/>
<circle cx="165.1" cy="65.1" r="2.7" stroke-width="0.9"/>
<path d="M163.3 66.69999999999999 L166.9 63.49999999999999" stroke-width="1.3"/>
<circle cx="165.1" cy="116.9" r="2.7" stroke-width="0.9"/>
<path d="M163.3 118.5 L166.9 115.30000000000001" stroke-width="1.3"/>
<path d="M163.2 76.8 H174.2" fill="none"/>
<rect x="163.2" y="98.6" width="10" height="7" />
<rect x="170.6" y="60.5" width="11" height="9.1"/>
<rect x="170.6" y="112.4" width="11" height="9.3"/>
<circle cx="176.1" cy="65.1" r="2.7" stroke-width="0.9"/>
<path d="M174.3 66.69999999999999 L177.9 63.49999999999999" stroke-width="1.3"/>
<circle cx="176.1" cy="116.9" r="2.7" stroke-width="0.9"/>
<path d="M174.3 118.5 L177.9 115.30000000000001" stroke-width="1.3"/>
<path d="M174.2 76.8 H185.2" fill="none"/>
<rect x="174.2" y="98.6" width="10" height="7" />
</g>
<path d="M114.4 79.2 L118.6 79.2 C120.8 85.7 120.8 92.3 118.6 98.8 L110.2 98.8 C113 93.3 113 89.2 110.4 84.6 Z" fill="#151515"/>
<path d="M118.8 82.2 C120.6 87.2 120.6 91.8 119 96.8" fill="none" stroke="#eee" stroke-width="1.1"/>
<path d="M120.4 83.2 C122 87.2 122 91.8 120.6 96.3" fill="none" stroke="#2a2a2a" stroke-width="0.9"/>
<path d="M125.4 79.2 L129.6 79.2 C131.8 85.7 131.8 92.3 129.6 98.8 L121.2 98.8 C124 93.3 124 89.2 121.4 84.6 Z" fill="#151515"/>
<path d="M129.8 82.2 C131.6 87.2 131.6 91.8 130 96.8" fill="none" stroke="#eee" stroke-width="1.1"/>
<path d="M131.4 83.2 C133 87.2 133 91.8 131.6 96.3" fill="none" stroke="#2a2a2a" stroke-width="0.9"/>
<path d="M136.4 79.2 L140.6 79.2 C142.8 85.7 142.8 92.3 140.6 98.8 L132.2 98.8 C135 93.3 135 89.2 132.4 84.6 Z" fill="#151515"/>
<path d="M140.8 82.2 C142.6 87.2 142.6 91.8 141 96.8" fill="none" stroke="#eee" stroke-width="1.1"/>
<path d="M142.4 83.2 C144 87.2 144 91.8 142.6 96.3" fill="none" stroke="#2a2a2a" stroke-width="0.9"/>
<path d="M147.4 79.2 L151.6 79.2 C153.8 85.7 153.8 92.3 151.6 98.8 L143.2 98.8 C146 93.3 146 89.2 143.4 84.6 Z" fill="#151515"/>
<path d="M151.8 82.2 C153.6 87.2 153.6 91.8 152 96.8" fill="none" stroke="#eee" stroke-width="1.1"/>
<path d="M153.4 83.2 C155 87.2 155 91.8 153.6 96.3" fill="none" stroke="#2a2a2a" stroke-width="0.9"/>
<path d="M158.4 79.2 L162.6 79.2 C164.8 85.7 164.8 92.3 162.6 98.8 L154.2 98.8 C157 93.3 157 89.2 154.4 84.6 Z" fill="#151515"/>
<path d="M162.8 82.2 C164.6 87.2 164.6 91.8 163 96.8" fill="none" stroke="#eee" stroke-width="1.1"/>
<path d="M164.4 83.2 C166 87.2 166 91.8 164.6 96.3" fill="none" stroke="#2a2a2a" stroke-width="0.9"/>
<path d="M169.4 79.2 L173.6 79.2 C175.8 85.7 175.8 92.3 173.6 98.8 L165.2 98.8 C168 93.3 168 89.2 165.4 84.6 Z" fill="#151515"/>
<path d="M173.8 82.2 C175.6 87.2 175.6 91.8 174 96.8" fill="none" stroke="#eee" stroke-width="1.1"/>
<path d="M175.4 83.2 C177 87.2 177 91.8 175.6 96.3" fill="none" stroke="#2a2a2a" stroke-width="0.9"/>
<path d="M180.4 79.2 L184.6 79.2 C186.8 85.7 186.8 92.3 184.6 98.8 L176.2 98.8 C179 93.3 179 89.2 176.4 84.6 Z" fill="#151515"/>
<path d="M184.8 82.2 C186.6 87.2 186.6 91.8 185 96.8" fill="none" stroke="#eee" stroke-width="1.1"/>
<path d="M186.4 83.2 C188 87.2 188 91.8 186.6 96.3" fill="none" stroke="#2a2a2a" stroke-width="0.9"/>
<path d="M253.4 171.1 C247.27 165.57 244.63 165.28 235 154.5 C225.37 143.72 229.83 150.25 224.5 138.75 C219.17 127.25 221.63 128.75 219 120 C216.37 111.25 218.33 116.5 216.6 112.5 C214.87 108.5 215.53 110.7 213.8 108 C212.07 105.3 213.93 105.93 211.4 104.4 C208.87 102.87 211.67 105.13 206.2 103.4 C200.73 101.67 202.9 101.43 195 99.2 C187.1 96.97 193.67 98.4 182.5 96.7 C171.33 95 172 94.57 161.5 94.1 C151 93.63 155.23 94.1 151 95.3 C146.77 96.5 148.8 96.27 148.8 97.7 C148.8 99.13 147.93 98.5 151 99.6 C154.07 100.7 151 100.2 158 101 C165 101.8 166.17 100.8 172 102 C177.83 103.2 172 101.7 175.5 104.6 C179 107.5 177.83 106.6 182.5 110.7 C187.17 114.8 187.17 114.83 189.5 116.9 L191 116 C187.67 116.73 187.67 116.43 181 118.2 C174.33 119.97 174.33 120.27 171 121.3 L171 121.3 C171.5 123.2 171.3 123.53 172.5 127 C173.7 130.47 173.9 130.13 174.6 131.7 L174.6 131.7 C172.73 132.13 172.2 131.8 169 133 C165.8 134.2 166.67 133.63 165 135.3 C163.33 136.97 164.33 137.1 164 138 L164 138 C164.5 139 161.67 136.67 165.5 141 C169.33 145.33 168.1 144.17 175.5 151 C182.9 157.83 178.37 156.83 187.7 161.5 C197.03 166.17 194.17 160.93 203.5 165 C212.83 169.07 207.87 164.37 215.7 173.7 C223.53 183.03 223.23 186.57 227 193 Z" fill="#fff" stroke="none"/>
<path d="M253.4 171.1 C247.27 165.57 244.63 165.28 235 154.5 C225.37 143.72 229.83 150.25 224.5 138.75 C219.17 127.25 221.63 128.75 219 120 C216.37 111.25 218.33 116.5 216.6 112.5 C214.87 108.5 215.53 110.7 213.8 108 C212.07 105.3 213.93 105.93 211.4 104.4 C208.87 102.87 211.67 105.13 206.2 103.4 C200.73 101.67 202.9 101.43 195 99.2 C187.1 96.97 193.67 98.4 182.5 96.7 C171.33 95 172 94.57 161.5 94.1 C151 93.63 155.23 94.1 151 95.3 C146.77 96.5 148.8 96.27 148.8 97.7 C148.8 99.13 147.93 98.5 151 99.6 C154.07 100.7 151 100.2 158 101 C165 101.8 166.17 100.8 172 102 C177.83 103.2 172 101.7 175.5 104.6 C179 107.5 177.83 106.6 182.5 110.7 C187.17 114.8 187.17 114.83 189.5 116.9 M191 116 C187.67 116.73 187.67 116.43 181 118.2 C174.33 119.97 174.33 120.27 171 121.3 M171 121.3 C171.5 123.2 171.3 123.53 172.5 127 C173.7 130.47 173.9 130.13 174.6 131.7 M174.6 131.7 C172.73 132.13 172.2 131.8 169 133 C165.8 134.2 166.67 133.63 165 135.3 C163.33 136.97 164.33 137.1 164 138 M164 138 C164.5 139 161.67 136.67 165.5 141 C169.33 145.33 168.1 144.17 175.5 151 C182.9 157.83 178.37 156.83 187.7 161.5 C197.03 166.17 194.17 160.93 203.5 165 C212.83 169.07 207.87 164.37 215.7 173.7 C223.53 183.03 223.23 186.57 227 193" fill="none" stroke="#111" stroke-width="1.15" stroke-linejoin="round" stroke-linecap="round"/>
<path d="M165 135.3 C167.9 134.1 166.13 132 173.7 131.7 C181.27 131.4 179.53 131.17 187.7 134.4 C195.87 137.63 194.7 139.07 198.2 141.4 M192 114.3 L195.6 114.3 M180 126.5 C184 127 188 127.5 191.3 128.2 M185 124 L187.7 129.2 M191.2 133.5 L203.5 133.5" fill="none" stroke="#111" stroke-width="1" stroke-linecap="round"/>
</g>
<path d="M218 77 C222.6 83 224.4 92 220.7 101.2" fill="none" stroke="#222" stroke-width="3.1" stroke-linejoin="round"/>
<path d="M218 77 C222.6 83 224.4 92 220.7 101.2" fill="none" stroke="#fff" stroke-width="1.2000000000000002" stroke-linejoin="round"/>
<path d="M217 101.2 L219.3 100.4 L222 101.3 L223 103.2 L216 109.7 Z" fill="#fff" stroke="#1a1a1a" stroke-width="0.9" stroke-linejoin="round"/>
<path d="M219.6 100.2 L221.9 101" stroke="#fff" stroke-width="1.3" fill="none"/>
<path d="M205 723.3 C209.6 715 211 706 207.5 699.3" fill="none" stroke="#222" stroke-width="3.1" stroke-linejoin="round"/>
<path d="M205 723.3 C209.6 715 211 706 207.5 699.3" fill="none" stroke="#fff" stroke-width="1.2000000000000002" stroke-linejoin="round"/>
<path d="M202.6 690.1 L209.9 698 L208.4 699.4 L205.6 699.9 L203.7 698.9 Z" fill="#fff" stroke="#1a1a1a" stroke-width="0.9" stroke-linejoin="round"/>
<path d="M206.2 699.9 L208.4 699.2" stroke="#fff" stroke-width="1.3" fill="none"/>
<path d="M247 603 V673.8" stroke="#111" stroke-width="1.9" fill="none"/>
<path d="M247 589.6 L254.9 609 L247 605.4 L239.1 609 Z" fill="#151515"/>
<clipPath id="ec"><circle cx="136.2" cy="449" r="102.5"/></clipPath>
<g clip-path="url(#ec)" stroke="#111" stroke-width="1.1" fill="none" stroke-linejoin="round">
<path d="M112.3 444.9 L64.1 467.6 L134.1 514 L236.3 462.9 L193.6 436.8" fill="#fff"/>
<path d="M160.5 408 L229.94 368.32"/>
<path d="M165.5 414 L234.94 374.32"/>
<path d="M170.5 419.5 L239.94 379.82"/>
<path d="M176 425 L245.44 385.32"/>
<path d="M181.5 430.5 L250.94 390.82"/>
<path d="M187 436 L256.44 396.32"/>
<path d="M184 415.5 L206 405 L214 407.5 L192 418 Z" fill="#111"/>
<path d="M5.18 515.69 L84.2 472.58 L86.4 476.62 L7.38 519.73" fill="#fff"/>
<path d="M84.77 473.63 L89.6 471 A1.2 1.2 0 0 1 90.66 472.93 L85.83 475.57" fill="#fff" stroke-width="1"/>
<path d="M20.48 526.29 L99.5 483.18 L101.7 487.22 L22.68 530.33" fill="#fff"/>
<path d="M100.07 484.23 L104.9 481.6 A1.2 1.2 0 0 1 105.96 483.53 L101.13 486.17" fill="#fff" stroke-width="1"/>
<path d="M35.08 536.69 L114.1 493.58 L116.3 497.62 L37.28 540.73" fill="#fff"/>
<path d="M114.67 494.63 L119.5 492 A1.2 1.2 0 0 1 120.56 493.93 L115.73 496.57" fill="#fff" stroke-width="1"/>
<path d="M72 497.4 L77.3 500.2 L99.4 488.8 L97.4 484.4 L90.4 486.9 Z" fill="#111"/>
<path d="M108.7 458.9 L97.9 464.1 L103.2 470.6" stroke-width="1.2"/>
<circle cx="119.3" cy="475.2" r="8.8" stroke-width="1.2"/>
<path d="M125.55 471.63 L120.34 474.6 M117.66 469.69 L123.02 479.52 M116.36 472.73 L119.81 479.06 M115.01 475.69 L116.64 478.68" stroke-width="1.2"/>
<path d="M123.6 486.4 L135 481.1 L128.4 490.4 L138.5 485.6" stroke-width="1.2"/>
<g fill="#fff" stroke-width="1.1">
<path d="M113.9 431.3 L127 425 L150 411 L193.6 436.8 L193.6 457.4 L153.8 478 L113.9 453.3 Z"/>
<path d="M113.9 431.3 l12.4 5.8 v22 l-12.4 -5.8 Z"/>
<path d="M117.2 436.3 l5.8 2.7 v14 l-5.8 -2.7 Z" stroke-width="0.9"/>
<path d="M118.6 438.6 l3 1.4 v10.2 l-3 -1.4 Z" stroke-width="0.7"/>
<path d="M127.6 440.9 l12.4 5.8 v22 l-12.4 -5.8 Z"/>
<path d="M130.9 445.9 l5.8 2.7 v14 l-5.8 -2.7 Z" stroke-width="0.9"/>
<path d="M132.3 448.2 l3 1.4 v10.2 l-3 -1.4 Z" stroke-width="0.7"/>
<path d="M141.4 450.5 l12.4 5.8 v22 l-12.4 -5.8 Z"/>
<path d="M144.7 455.5 l5.8 2.7 v14 l-5.8 -2.7 Z" stroke-width="0.9"/>
<path d="M146.1 457.8 l3 1.4 v10.2 l-3 -1.4 Z" stroke-width="0.7"/>
<path d="M126.3 436.8 L140.5 429.5 M140 446.4 L154 439 M153.8 457.4 L193.6 436.8 M126.3 437 L127.6 441 M140 446.4 L141.4 450.5" />
</g>
<path d="M145 405 V419 A6 2.6 0 0 0 157 419 V405" fill="#fff" stroke-width="1.1"/>
<ellipse cx="151" cy="405" rx="6" ry="2.6" fill="#fff" stroke-width="1.1"/>
<path d="M157 414.6 V428.7 A6.2 2.6 0 0 0 169.4 428.7 V414.6" fill="#fff" stroke-width="1.1"/>
<ellipse cx="163.2" cy="414.6" rx="6.2" ry="2.6" fill="#fff" stroke-width="1.1"/>
<path d="M170.8 423.6 V438.3 A6.2 2.6 0 0 0 183.2 438.3 V423.6" fill="#fff" stroke-width="1.1"/>
<ellipse cx="177" cy="423.6" rx="6.2" ry="2.6" fill="#fff" stroke-width="1.1"/>
<path d="M123.5 416 V430 A6.2 2.6 0 0 0 135.9 430 V416" fill="#fff" stroke-width="1.1"/>
<ellipse cx="129.7" cy="416" rx="6.2" ry="2.6" fill="#fff" stroke-width="1.1"/>
<path d="M137.3 425.6 V439.7 A6.45 2.6 0 0 0 150.2 439.7 V425.6" fill="#fff" stroke-width="1.1"/>
<ellipse cx="143.75" cy="425.6" rx="6.45" ry="2.6" fill="#fff" stroke-width="1.1"/>
<path d="M151 435.2 V449.3 A6.5 2.6 0 0 0 164 449.3 V435.2" fill="#fff" stroke-width="1.1"/>
<ellipse cx="157.5" cy="435.2" rx="6.5" ry="2.6" fill="#fff" stroke-width="1.1"/>
<path d="M37.9 469.4 L68 451.2" stroke-width="1.4"/>
<path d="M75.5 446.6 L63.2 449.4 L67.8 456.4 Z" fill="#111" stroke="none"/>
</g>
<path d="M236.07 472.06 A102.5 102.5 0 1 1 234.38 419.55" fill="none" stroke="#111" stroke-width="1.2"/>
<path d="M234.38 419.55 C237.92 419.96 238.13 420.45 245 420.8 C251.87 421.15 247 421.87 255 420.6 C263 419.33 257.33 421.37 269 417 C280.67 412.63 277.17 415.33 290 407.5 C302.83 399.67 297 403.43 307.5 393.5 C318 383.57 313.33 388.87 321.5 377.7 C329.67 366.53 326.17 371.07 332 360 C337.83 348.93 336.67 349.67 339 344.5" fill="none" stroke="#111" stroke-width="1"/>
<path d="M236.07 472.06 C241.38 470.04 242.19 470.02 252 466 C261.81 461.98 255.5 465.33 265.5 460 C275.5 454.67 270.93 457 282 450 C293.07 443 287.3 449.67 298.7 439 C310.1 428.33 306.27 433.17 316.2 418 C326.13 402.83 321.5 411.6 328.5 393.5 C335.5 375.4 333.13 380.03 337.2 363.7 C341.27 347.37 339.53 350.9 340.7 344.5" fill="none" stroke="#111" stroke-width="1"/>
<g fill="#000" stroke="none" fill-rule="evenodd">
<path d="M43.6 15.4 L50.5 15.4 L65.4 61.5 L58.2 61.5 L54.1 48.1 L39.75 48.1 L35.85 61.5 L29.1 61.5 Z M47.1 25.7 L52.2 42 L41.8 42 Z"/>
<path d="M303.6 145.2 H320 C327.5 145.2 331.4 150 331.4 157 C331.4 162 329.5 165.5 326 167.3 C330.5 169 333.2 172.5 333.2 178 C333.2 186 328.5 191.3 320.5 191.3 H303.6 Z M309.9 151.3 H319.5 C323 151.3 324.7 153.8 324.7 157.5 C324.7 161.5 323 163.9 319.5 163.9 H309.9 Z M309.9 170 H320 C324.5 170 326.3 173 326.3 177.3 C326.3 182 324.5 184.6 320 184.6 H309.9 Z"/>
<path d="M300.4 496.1 H316 C327 496.1 332.7 503 332.7 513 V526 C332.7 536 327 542.9 316 542.9 H300.4 Z M306.9 502.4 H315.5 C322 502.4 325.1 507 325.1 514 V525 C325.1 532 322 536.2 315.5 536.2 H306.9 Z"/>
<path d="M76.4 381.2 H104.8 V387.7 H82.7 V400.1 H103.2 V406.6 H82.7 V420.6 H105.4 V426.9 H76.4 Z"/>
<path d="M534.9 473.9 H561.5 V480.4 H541.5 V493 H558.6 V499.6 H541.5 V519.9 H534.9 Z"/>
<path d="M236.2 731.8 H242.7 V750 H260.1 V731.8 H266.9 V777.9 H260.1 V756.8 H242.7 V777.9 H236.2 Z"/>
</g>
<path d="M311.5 273.6 A13.5 16 0 0 0 285.05 277.75 V287.45 A13.5 16 0 0 0 312 290" fill="none" stroke="#000" stroke-width="7.3"/>
<path d="M584.6 606.23 L576.88 605.08 L568.96 604.01 L560.86 603.04 L552.59 602.16 L544.17 601.37 L535.62 600.67 L526.96 600.07 L518.2 599.56 L509.35 599.15 L500.44 598.84 L491.49 598.63 L482.5 598.52 L473.51 598.51 L464.52 598.59 L455.56 598.78 L446.63 599.07 L437.77 599.45 L428.99 599.93 L420.3 600.51 L411.72 601.18 L403.27 601.95 L394.96 602.81 L386.82 603.77 L378.85 604.81 L371.08 605.94 L363.51 607.15 L356.17 608.44 L349.07 609.82 L342.22 611.27 L335.63 612.8 L329.33 614.4 L323.31 616.07 L317.6 617.8 L312.2 619.59 L307.12 621.44 L302.38 623.35 L297.99 625.3 L293.95 627.31 L290.26 629.35 L286.95 631.44 L284.01 633.56 L281.45 635.7 L279.27 637.88 L277.49 640.08 L276.09 642.29 L275.1 644.52 L274.5 646.76 L274.3 649 L274.3 649 L274.73 652.3 L276.03 655.59 L278.19 658.85 L281.2 662.07 L285.05 665.23 L289.72 668.33 L295.19 671.34 L301.44 674.25 L308.44 677.06 L316.17 679.74 L324.58 682.3 L333.64 684.71 L343.32 686.97 L353.56 689.06 L364.34 690.99 L375.6 692.73 L387.29 694.29 L399.37 695.66 L411.78 696.82 L424.46 697.78 L437.37 698.53 L450.46 699.07 L463.65 699.39 L476.9 699.5 L490.15 699.39 L503.34 699.07 L516.43 698.53 L529.34 697.78 L542.02 696.82 L554.43 695.66 L566.51 694.29 L578.2 692.73 L589.46 690.99 L600.24 689.06 L610.48 686.97 L620.16 684.71 L629.22 682.3 L637.63 679.74 L645.36 677.06 L652.36 674.25 L658.61 671.34 L664.08 668.33 L668.75 665.23 L672.6 662.07 L675.61 658.85 L677.77 655.59 L679.07 652.3 L679.5 649 L679.5 649 L679.49 648.52 L679.46 648.04 L679.42 647.56 L679.35 647.09 L679.27 646.61 L679.17 646.13 L679.05 645.65 L678.92 645.18 L678.76 644.7 L678.59 644.22 L678.4 643.75 L678.19 643.27 L677.96 642.79 L677.72 642.32 L677.46 641.85 L677.18 641.37 L676.88 640.9 L676.56 640.43 L676.22 639.96 L675.87 639.49 L675.5 639.02 L675.11 638.55 L674.71 638.08 L674.28 637.61 L673.84 637.15 L673.38 636.68 L672.9 636.22 L672.41 635.76 L671.9 635.3 L671.37 634.84 L670.82 634.38 L670.26 633.92 L669.67 633.46 L669.07 633.01 L668.46 632.56 L667.82 632.1 L667.17 631.65 L666.51 631.21 L665.82 630.76 L665.12 630.31 L664.4 629.87 L663.66 629.43 L662.91 628.99 L662.14 628.55 L661.36 628.11 L660.55 627.68 L659.74 627.24 L658.9 626.81" fill="none" stroke="#222" stroke-width="1.1"/>
<path d="M584.6 605.3 C587.73 604.03 588.03 604.73 594 601.5 C599.97 598.27 597.5 600.1 602.5 595.6 C607.5 591.1 605.33 593.53 609 588 C612.67 582.47 611.67 585.67 613.5 579 C615.33 572.33 614.57 574.83 614.5 568 C614.43 561.17 612.8 563.03 613.3 558.5 C613.8 553.97 613.1 555.23 616 554.4 C618.9 553.57 617.33 553.7 622 556 C626.67 558.3 621.83 553.13 630 561.3 C638.17 569.47 637.33 566.77 646.5 580.5 C655.67 594.23 653 586.9 657.5 602.5 C662 618.1 660.93 611.7 660 627.3 C659.07 642.9 659.53 637.73 654.7 649.3 C649.87 660.87 651.9 654.67 645.5 662 C639.1 669.33 642.67 665.47 635.5 671.3 C628.33 677.13 632.27 674.47 624 679.5 C615.73 684.53 615.13 684.1 610.7 686.4" fill="none" stroke="#444" stroke-width="0.9"/>
<path d="M610.7 686.4 C614.13 685.6 614.57 684.93 621 684 C627.43 683.07 625 683.33 630 683.6 C635 683.87 632.33 683.4 636 684.8 C639.67 686.2 637.33 684.73 641 687.8 C644.67 690.87 643.33 689.43 647 694 C650.67 698.57 648.83 697 652 701.5 C655.17 706 653.73 704.77 656.5 707.5 C659.27 710.23 657.97 709.37 660.3 709.7 C662.63 710.03 661.67 710.33 663.5 708.5 C665.33 706.67 664.13 708.7 665.8 704.2 C667.47 699.7 667.1 701.4 668.5 695 C669.9 688.6 669.63 691 670 685 C670.37 679 670.1 682 669.6 677 C669.1 672 668.87 672.33 668.5 670" fill="none" stroke="#444" stroke-width="0.9"/>
<path d="M678 619 C674 594 664 569 648 551" fill="none" stroke="#111" stroke-width="1.5"/>
<path d="M642.4 544.7 L657.8 547.8 L651.6 552.6 L648.2 560.4 Z" fill="#111"/>
<path d="M687.8 670 C689.5 689 684.5 706 676.5 718.5" fill="none" stroke="#111" stroke-width="1.5"/>
<path d="M670 726.8 L672.4 712.2 L677 717.6 L685.2 719.4 Z" fill="#111"/>
<text x="338.8" y="627" font-size="16" textLength="295.2" lengthAdjust="spacingAndGlyphs" fill="#000" stroke="#000" stroke-width="0.55" stroke-linejoin="round">BG: Премахнете защитното фолио!</text>
<text x="338.8" y="652.4" font-size="16" textLength="250.6" lengthAdjust="spacingAndGlyphs" fill="#000" stroke="#000" stroke-width="0.55" stroke-linejoin="round">EN: Remove the protective foil!</text>
<text x="338.8" y="678" font-size="16" textLength="245.6" lengthAdjust="spacingAndGlyphs" fill="#000" stroke="#000" stroke-width="0.55" stroke-linejoin="round">RO: Scoateti folia de protectie!</text>
</svg>
</body></html>
